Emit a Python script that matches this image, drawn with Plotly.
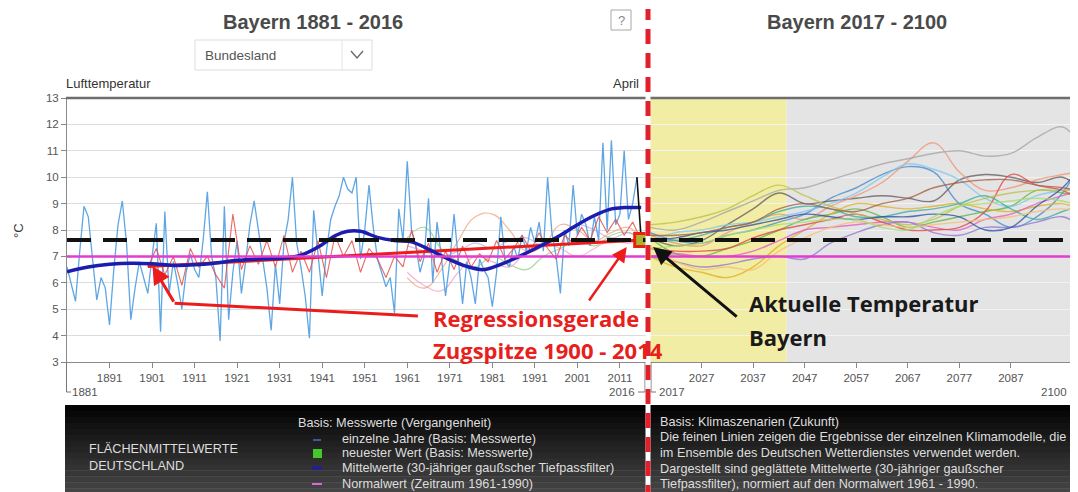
import plotly.graph_objects as go

W, H = 1078, 492
OX, OY = 8, 8  # page body margin offset of the plot div
def px(x): return (x - OX) / W
def py(y): return 1 - (y - OY) / H

# ---------------- DATA ----------------
years_yearly = list(range(1881, 2016))
temp_yearly = [
    6.6, 5.9, 5.3, 7.2, 8.9, 8.5, 6.8, 5.35, 6.2, 5.8,
    4.4, 6.5, 8.2, 9.1, 7.5, 4.6, 5.8, 6.8, 6.2, 5.6,
    7.0, 8.25, 4.15, 8.7, 5.6, 6.8, 6.0, 5.0, 6.4, 7.1,
    6.5, 6.2, 7.6, 9.45, 7.0, 6.2, 3.8, 8.9, 4.6, 6.4,
    7.6, 5.6, 6.8, 8.2, 9.1,
    8.0, 7.0, 5.8, 4.2, 6.7, 5.2, 7.5, 8.4, 10.0, 7.5,
    6.6, 5.5, 3.9, 8.75, 7.0, 5.5, 7.2, 8.4, 8.9, 9.3,
    10.0, 9.55, 9.4, 10.0, 6.9, 8.0, 9.7, 8.1, 6.9, 6.4,
    5.85, 6.2, 4.85, 8.8, 7.6,
    10.6, 8.0, 7.4, 6.4, 7.0, 9.2, 6.0, 8.3, 7.0, 5.5,
    6.8, 8.6, 6.9, 5.2, 6.8, 6.2, 5.2, 6.9, 6.5, 6.2,
    5.1, 6.4, 8.5, 6.8, 6.6, 7.4, 6.9, 7.8, 7.2, 8.1,
    7.5, 8.3, 7.2, 10.0, 7.9, 7.0, 5.6, 8.0, 7.4, 9.7,
    7.8, 8.6, 8.2, 7.4, 8.5, 7.6, 11.3, 8.0, 11.4, 8.2,
    8.6, 11.0, 8.4, 9.0, 10.0,
]
newest_years = [2015, 2016]
newest_vals = [10.0, 7.62]
latest_year = [2016]
latest_val = [7.62]

smooth_years = [1881, 1886, 1891, 1896, 1901, 1906, 1911, 1916, 1921, 1926, 1931, 1936,
                1941, 1944, 1947, 1950, 1954, 1958, 1962, 1965, 1970, 1975, 1979, 1983,
                1988, 1993, 1997, 2001, 2005, 2009, 2012, 2016]
smooth_vals = [6.42, 6.6, 6.7, 6.74, 6.72, 6.66, 6.68, 6.75, 6.85, 6.9, 6.93, 7.05,
               7.45, 7.78, 7.95, 7.95, 7.72, 7.6, 7.55, 7.35, 6.95, 6.62, 6.5, 6.7,
               7.05, 7.45, 7.8, 8.2, 8.55, 8.8, 8.85, 8.85]

zug_years = list(range(1900, 2017, 2))
zug_vals = [6.6, 7.3, 6.3, 7.0, 5.9, 7.3, 6.6, 7.0, 6.3, 5.8, 8.6, 6.5, 7.4, 6.7, 7.6,
            6.6, 7.8, 6.4, 7.2, 6.4, 7.6, 6.2, 7.8, 7.0, 7.6, 6.4, 7.3, 6.9, 6.2, 7.0,
            6.6, 8.0, 6.8, 7.5, 6.4, 7.2, 6.5, 7.4, 6.6, 7.1, 6.8, 7.6, 6.9, 7.3, 7.8,
            7.2, 7.9, 7.3, 6.9, 7.8, 7.5, 8.1, 7.6, 8.5, 7.9, 8.4, 7.8, 8.3, 7.6]

regression_years = [1900, 2016]
regression_vals = [6.62, 7.62]

normal_value = 7.0
current_value = 7.62

past_model_years = [1961, 1965, 1969, 1973, 1977, 1981, 1985, 1989, 1993, 1997, 2001, 2005, 2009, 2013, 2016]
past_orange = [6.2, 5.8, 6.5, 7.6, 8.5, 8.6, 8.0, 7.2, 7.4, 8.2, 8.0, 7.6, 7.9, 8.1, 7.6]
past_green = [7.7, 8.1, 7.3, 6.8, 6.6, 7.0, 6.7, 6.5, 7.0, 7.3, 7.6, 7.4, 7.8, 7.9, 7.6]
past_pink = [6.4, 5.9, 5.7, 6.4, 7.0, 6.8, 6.6, 7.2, 7.5, 7.3, 7.0, 7.3, 7.6, 7.5, 7.6]
past_lilac = [7.4, 7.2, 7.0, 7.2, 7.5, 7.3, 7.6, 7.7, 7.4, 7.8, 8.2, 8.0, 7.7, 7.9, 7.6]

model_years = [2017, 2022, 2027, 2032, 2037, 2042, 2047, 2052, 2057, 2062, 2067, 2072,
               2077, 2082, 2087, 2092, 2097, 2100]
model_a = [7.9, 7.6, 7.5, 7.8, 8.0, 8.3, 8.6, 9.2, 9.6, 10.1, 10.4, 10.2, 9.0, 8.6, 8.1, 8.5, 9.4, 10.4]
model_b = [7.7, 7.4, 7.6, 8.2, 8.8, 9.4, 9.0, 9.1, 9.2, 9.3, 9.2, 9.1, 9.9, 10.1, 10.0, 9.8, 10.0, 9.6]
model_c = [7.8, 7.5, 7.4, 7.9, 8.3, 8.6, 8.4, 8.9, 9.3, 9.8, 10.6, 11.3, 10.2, 9.5, 9.6, 9.9, 10.1, 10.2]
model_d = [8.1, 8.0, 8.3, 8.7, 9.1, 9.5, 9.6, 9.9, 10.2, 10.5, 10.7, 10.9, 11.0, 10.8, 10.9, 11.5, 11.9, 11.3]
model_e = [7.7, 7.1, 7.0, 7.3, 7.6, 8.0, 8.4, 8.6, 8.8, 8.5, 8.1, 8.3, 8.5, 8.7, 8.9, 9.5, 9.4, 9.3]
model_f = [7.0, 6.6, 6.4, 6.2, 6.6, 7.4, 8.0, 8.6, 9.0, 8.9, 8.8, 8.9, 9.0, 8.8, 8.7, 8.9, 9.0, 8.8]
model_g = [7.0, 7.1, 7.0, 7.0, 7.2, 7.6, 8.0, 8.1, 8.2, 8.3, 8.3, 8.1, 8.0, 8.4, 8.6, 9.0, 9.3, 9.5]
model_h = [7.6, 7.9, 8.0, 8.2, 8.3, 8.5, 8.7, 9.0, 9.4, 10.0, 10.5, 10.3, 9.9, 9.2, 8.9, 9.3, 9.5, 9.6]
model_i = [7.3, 7.2, 7.2, 7.3, 7.7, 8.0, 8.2, 8.4, 8.6, 8.3, 8.0, 8.0, 8.1, 8.7, 10.1, 9.7, 9.5, 9.2]
model_j = [7.6, 7.6, 7.8, 8.1, 8.3, 8.7, 8.9, 8.8, 8.5, 8.5, 8.7, 8.8, 9.0, 9.3, 8.8, 8.4, 8.7, 8.9]
model_k = [8.2, 8.3, 8.5, 8.8, 9.3, 9.7, 9.3, 8.9, 8.6, 8.4, 8.2, 8.4, 8.9, 9.2, 9.4, 9.5, 9.5, 9.5]
model_l = [7.0, 6.8, 6.6, 6.7, 6.9, 7.0, 6.9, 7.5, 7.9, 8.2, 8.3, 7.9, 7.8, 8.1, 8.1, 8.3, 8.5, 8.2]
model_m = [7.6, 7.7, 7.9, 8.0, 8.2, 8.4, 8.6, 8.5, 8.4, 8.5, 8.5, 8.6, 8.5, 8.0, 8.1, 8.9, 9.6, 10.3]
model_n = [7.4, 6.8, 6.5, 6.6, 6.5, 7.2, 7.7, 8.1, 8.3, 8.2, 8.1, 8.2, 8.3, 8.4, 8.5, 8.7, 8.8, 8.7]
model_o = [7.3, 7.4, 7.5, 7.8, 8.0, 8.2, 8.3, 8.4, 8.4, 8.1, 8.0, 8.5, 8.9, 9.0, 9.1, 9.2, 9.1, 8.9]
model_p = [7.8, 7.8, 7.9, 8.1, 8.3, 8.8, 9.0, 8.8, 8.7, 9.0, 9.2, 9.6, 9.8, 9.9, 9.9, 9.7, 9.6, 9.5]

near_future_end = 2043.5
left_ticks = [1891, 1901, 1911, 1921, 1931, 1941, 1951, 1961, 1971, 1981, 1991, 2001, 2011]
right_ticks = [2027, 2037, 2047, 2057, 2067, 2077, 2087]
y_ticks = list(range(3, 14))

# ---------------- FIGURE ----------------
fig = go.Figure()
FONT = "Liberation Sans, Arial, sans-serif"
BIG = "Open Sans, sans-serif"

for vals, col in [(past_orange, "#f2a27a"), (past_green, "#8fd07a"),
                  (past_pink, "#f0a0c8"), (past_lilac, "#c8a8e8")]:
    fig.add_trace(go.Scatter(x=past_model_years, y=vals, mode="lines",
                             line=dict(color=col, width=1.2, shape="spline", smoothing=1.3),
                             opacity=0.75, xaxis="x", yaxis="y", hoverinfo="skip"))

fig.add_trace(go.Scatter(x=years_yearly, y=temp_yearly, mode="lines",
                         line=dict(color="#5fa6e4", width=1.3), xaxis="x", yaxis="y"))
fig.add_trace(go.Scatter(x=zug_years, y=zug_vals, mode="lines",
                         line=dict(color="#e4504c", width=1.1), opacity=0.85, xaxis="x", yaxis="y"))
fig.add_trace(go.Scatter(x=regression_years, y=regression_vals, mode="lines",
                         line=dict(color="#ec1c1c", width=3), xaxis="x", yaxis="y"))
fig.add_trace(go.Scatter(x=smooth_years, y=smooth_vals, mode="lines",
                         line=dict(color="#1c1cae", width=3.5, shape="spline", smoothing=1.0),
                         xaxis="x", yaxis="y"))
fig.add_trace(go.Scatter(x=newest_years, y=newest_vals, mode="lines",
                         line=dict(color="#111111", width=1.6), xaxis="x", yaxis="y"))

models = [(model_a, "#4a8fd0"), (model_b, "#6a5f66"), (model_c, "#f09878"), (model_d, "#a8a8a8"),
          (model_e, "#62b848"), (model_f, "#e2b224"), (model_g, "#e060c8"), (model_h, "#86c8f0"),
          (model_i, "#e44848"), (model_j, "#40b0a4"), (model_k, "#bcc448"), (model_l, "#9478d4"),
          (model_m, "#3454a8"), (model_n, "#f8c070"), (model_o, "#a6de72"), (model_p, "#a8604c")]
for vals, col in models:
    fig.add_trace(go.Scatter(x=model_years, y=vals, mode="lines",
                             line=dict(color=col, width=1.4, shape="spline", smoothing=1.1),
                             opacity=0.8, xaxis="x2", yaxis="y2", hoverinfo="skip"))

fig.add_trace(go.Scatter(x=latest_year, y=latest_val, mode="markers",
                         marker=dict(symbol="square", size=13, color="#a8b42a",
                                     line=dict(color="#e82010", width=3)),
                         xaxis="x", yaxis="y", cliponaxis=False))

# ---------------- SHAPES ----------------
shapes = []
shapes.append(dict(type="rect", xref="x2", yref="y2", x0=2017, x1=near_future_end, y0=3, y1=13,
                   fillcolor="#f1eda4", line=dict(width=0), layer="below"))
shapes.append(dict(type="rect", xref="x2", yref="y2", x0=near_future_end, x1=2100, y0=3, y1=13,
                   fillcolor="#e4e4e4", line=dict(width=0), layer="below"))
shapes.append(dict(type="line", xref="paper", yref="paper", x0=px(66), x1=1, y0=py(98), y1=py(98),
                   line=dict(color="#6e6e6e", width=2.5)))
shapes.append(dict(type="line", xref="paper", yref="y", x0=px(67), x1=1, y0=normal_value, y1=normal_value,
                   line=dict(color="#e23cd0", width=2.5)))
shapes.append(dict(type="line", xref="paper", yref="y", x0=px(67), x1=1, y0=current_value, y1=current_value,
                   line=dict(color="#111111", width=4, dash="24px,12px")))
shapes.append(dict(type="line", xref="x", yref="y", x0=1906.3, y0=5.23, x1=1963.5, y1=4.74,
                   line=dict(color="#ec1c1c", width=3)))
shapes.append(dict(type="path", xref="paper", yref="paper",
                   path=f"M {px(66.5)} {py(362)} L {px(66.5)} {py(392)} L {px(71)} {py(392)}",
                   line=dict(color="#777", width=1)))
shapes.append(dict(type="path", xref="paper", yref="paper",
                   path=f"M {px(638)} {py(392)} L {px(645)} {py(392)} L {px(645)} {py(362)}",
                   line=dict(color="#777", width=1)))
shapes.append(dict(type="path", xref="paper", yref="paper",
                   path=f"M {px(651)} {py(362)} L {px(651)} {py(392)} L {px(656)} {py(392)}",
                   line=dict(color="#777", width=1)))
shapes.append(dict(type="path", xref="paper", yref="paper",
                   path=f"M {px(1071)} {py(392)} L {px(1077)} {py(392)} L {px(1077)} {py(362)}",
                   line=dict(color="#777", width=1)))
shapes.append(dict(type="rect", xref="paper", yref="paper", x0=px(195), x1=px(372), y0=py(70), y1=py(40),
                   line=dict(color="#dddddd", width=1), fillcolor="white"))
shapes.append(dict(type="line", xref="paper", yref="paper", x0=px(342), x1=px(342), y0=py(70), y1=py(40),
                   line=dict(color="#e4e4e4", width=1)))
shapes.append(dict(type="path", xref="paper", yref="paper",
                   path=f"M {px(351)} {py(51)} L {px(357)} {py(58)} L {px(363)} {py(51)}",
                   line=dict(color="#666", width=1.3)))
shapes.append(dict(type="rect", xref="paper", yref="paper", x0=px(611), x1=px(631), y0=py(30), y1=py(10),
                   line=dict(color="#a8a8a8", width=1), fillcolor="white"))
top, bot, n = 405, 500, 16
for i in range(n):
    g = int(4 + 70 * i / (n - 1))
    shapes.append(dict(type="rect", xref="paper", yref="paper", x0=px(65), x1=1,
                       y0=py(top + (bot - top) * (i + 1) / n + 0.5), y1=py(top + (bot - top) * i / n),
                       line=dict(width=0), fillcolor=f"rgb({g},{g},{g})"))
shapes.append(dict(type="line", xref="paper", yref="paper", x0=px(313), x1=px(321), y0=py(440), y1=py(440),
                   line=dict(color="#4a6ad0", width=1.5)))
shapes.append(dict(type="rect", xref="paper", yref="paper", x0=px(313), x1=px(322), y0=py(458), y1=py(449),
                   line=dict(width=0), fillcolor="#46c82a"))
shapes.append(dict(type="line", xref="paper", yref="paper", x0=px(312), x1=px(322), y0=py(468), y1=py(468),
                   line=dict(color="#1c1cae", width=3)))
shapes.append(dict(type="line", xref="paper", yref="paper", x0=px(312), x1=px(322), y0=py(484), y1=py(484),
                   line=dict(color="#d46ad4", width=2)))
shapes.append(dict(type="line", xref="paper", yref="paper", x0=px(648), x1=px(648), y0=0, y1=1,
                   line=dict(color="white", width=5)))
shapes.append(dict(type="line", xref="paper", yref="paper", x0=px(648), x1=px(648), y0=0, y1=py(9),
                   line=dict(color="#e0202a", width=5, dash="15px,9px")))

# ---------------- ANNOTATIONS ----------------
ann = []
def txt(x, y, s, size=11, color="#333", xanchor="left", bold=False, family=FONT, angle=0):
    ann.append(dict(xref="paper", yref="paper", x=px(x), y=py(y), text=f"<b>{s}</b>" if bold else s,
                    showarrow=False, xanchor=xanchor, yanchor="middle", textangle=angle,
                    font=dict(size=size, color=color, family=family)))

txt(313, 22, "Bayern 1881 - 2016", 20, "#4a4a4a", "center", True)
txt(857, 22, "Bayern 2017 - 2100", 20, "#4a4a4a", "center", True)
txt(203, 56, "Bundesland", 13.5, "#555")
txt(621, 20, "?", 13, "#888", "center")
txt(64, 83, "Lufttemperatur", 13, "#333")
txt(641, 83, "April", 13, "#333", "right")
txt(18, 231, "°C", 13, "#333", "center", angle=-90)
txt(70, 392, "1881", 11.5, "#555")
txt(637, 392, "2016", 11.5, "#555", "right")
txt(657, 392, "2017", 11.5, "#555")
txt(1069, 392, "2100", 11.5, "#555", "right")

txt(431, 318, "Regressionsgerade", 22, "#e8201c", "left", True, BIG)
txt(431, 350, "Zugspitze 1900 - 2014", 22, "#e8201c", "left", True, BIG)
txt(747, 303, "Aktuelle Temperatur", 22, "#1a1a1a", "left", True, BIG)
txt(747, 337, "Bayern", 22, "#1a1a1a", "left", True, BIG)

LC = "#dedede"
LS = 12.7
txt(87, 449, "FLÄCHENMITTELWERTE", LS, LC)
txt(87, 466, "DEUTSCHLAND", LS, LC)
txt(296, 423, "Basis: Messwerte (Vergangenheit)", LS, LC)
txt(340, 439, "einzelne Jahre (Basis: Messwerte)", LS, LC)
txt(340, 453, "neuester Wert (Basis: Messwerte)", LS, LC)
txt(340, 468, "Mittelwerte (30-jähriger gaußscher Tiefpassfilter)", LS, LC)
txt(340, 484, "Normalwert (Zeitraum 1961-1990)", LS, LC)
txt(658, 422, "Basis: Klimaszenarien (Zukunft)", LS, LC)
txt(658, 437, "Die feinen Linien zeigen die Ergebnisse der einzelnen Klimamodelle, die", LS, LC)
txt(658, 453, "im Ensemble des Deutschen Wetterdienstes verwendet werden.", LS, LC)
txt(658, 469, "Dargestellt sind geglättete Mittelwerte (30-jähriger gaußscher", LS, LC)
txt(658, 484, "Tiefpassfilter), normiert auf den Normalwert 1961 - 1990.", LS, LC)

ann.append(dict(xref="x", yref="y", axref="x", ayref="y", x=1901.1, y=6.64, ax=1906.3, ay=5.23,
                text="", showarrow=True, arrowhead=2, arrowsize=1.2, arrowwidth=3, arrowcolor="#ec1c1c"))
ann.append(dict(xref="x", yref="y", axref="x", ayref="y", x=2012.6, y=7.36, ax=2003.5, ay=5.27,
                text="", showarrow=True, arrowhead=2, arrowsize=1.2, arrowwidth=2.5, arrowcolor="#ec1c1c"))
ann.append(dict(xref="x2", yref="y2", axref="x2", ayref="y2", x=2017.6, y=7.36, ax=2034.1, ay=4.67,
                text="", showarrow=True, arrowhead=2, arrowsize=1.2, arrowwidth=3, arrowcolor="#111111"))

tickfont = dict(family=FONT, size=11.5, color="#555")
fig.update_layout(
    width=W, height=H, autosize=False,
    margin=dict(l=0, r=0, t=0, b=0, pad=0, autoexpand=False),
    paper_bgcolor="white", plot_bgcolor="white",
    showlegend=False,
    shapes=shapes, annotations=ann,
    xaxis=dict(domain=[px(67), px(648)], range=[1881, 2017.6], tickvals=left_ticks,
               ticks="outside", ticklen=5, tickcolor="#888", showline=True, linecolor="#8a8a8a",
               showgrid=False, zeroline=False, tickfont=tickfont, anchor="y", fixedrange=True,
               automargin=False),
    xaxis2=dict(domain=[px(650), px(1078)], range=[2017, 2100], tickvals=right_ticks,
                ticks="outside", ticklen=5, tickcolor="#888", showline=True, linecolor="#8a8a8a",
                showgrid=False, zeroline=False, tickfont=tickfont, anchor="y2", fixedrange=True,
                automargin=False),
    yaxis=dict(domain=[py(362), py(98)], range=[3, 13], tickvals=y_ticks,
               ticks="outside", ticklen=5, tickcolor="#888", showline=True, linecolor="#8a8a8a",
               showgrid=True, gridcolor="#dcdcdc", zeroline=False, tickfont=tickfont, anchor="x",
               automargin=False),
    yaxis2=dict(domain=[py(362), py(98)], range=[3, 13], tickvals=y_ticks, matches="y",
                showticklabels=False, ticks="", showline=False, automargin=False,
                showgrid=True, gridcolor="#f2f2f2", zeroline=False, anchor="x2"),
)

fig.write_html("out.html")
